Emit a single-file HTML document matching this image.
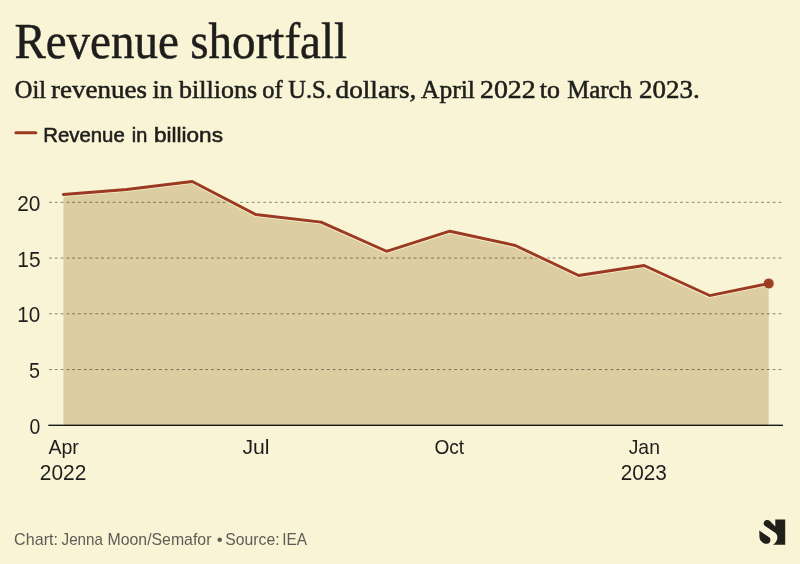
<!DOCTYPE html>
<html lang="en">
<head>
<meta charset="utf-8">
<title>Revenue shortfall</title>
<style>
html,body{margin:0;padding:0;background:#f8f4d5;}
body{width:800px;height:564px;overflow:hidden;position:relative;font-family:"Liberation Sans",sans-serif;}
svg{position:absolute;left:0;top:0;display:block}
.title{font-family:"Liberation Serif",serif;font-size:51.5px;fill:#1e1e1c;stroke:#1e1e1c;stroke-width:0.5px;}
.sub{font-family:"Liberation Serif",serif;font-size:26px;fill:#1e1e1c;stroke:#1e1e1c;stroke-width:0.55px;}
.leg{font-family:"Liberation Sans",sans-serif;font-size:20px;fill:#1e1e1c;stroke:#1e1e1c;stroke-width:0.55px;}
.ax{font-family:"Liberation Sans",sans-serif;font-size:21.6px;fill:#1e1e1c;}
.axm{font-family:"Liberation Sans",sans-serif;font-size:21px;fill:#1e1e1c;}
.foot{font-family:"Liberation Sans",sans-serif;font-size:16.4px;fill:#5d5c56;}
</style>
</head>
<body>
<svg width="800" height="564" viewBox="0 0 800 564">
<rect x="0" y="0" width="800" height="564" fill="#f8f4d5"/>
<line x1="15.9" x2="35.8" y1="132.8" y2="132.8" stroke="#9b3a20" stroke-width="3" stroke-linecap="round"/>
<path d="M63.40,194.53 L126.75,189.51 L192.21,181.48 L255.56,214.49 L321.02,222.07 L386.49,251.28 L449.84,231.21 L515.30,245.48 L578.65,275.48 L644.11,265.55 L709.57,295.55 L768.70,283.51 L768.70,425.0 L63.40,425.0 Z" fill="#ddcea2"/>
<line x1="49" x2="782" y1="369.55" y2="369.55" stroke="#2a2a22" stroke-opacity="0.54" stroke-width="1" stroke-dasharray="2.9 2.889"/>
<line x1="49" x2="782" y1="313.80" y2="313.80" stroke="#2a2a22" stroke-opacity="0.54" stroke-width="1" stroke-dasharray="2.9 2.889"/>
<line x1="49" x2="782" y1="258.05" y2="258.05" stroke="#2a2a22" stroke-opacity="0.54" stroke-width="1" stroke-dasharray="2.9 2.889"/>
<line x1="49" x2="782" y1="202.30" y2="202.30" stroke="#2a2a22" stroke-opacity="0.54" stroke-width="1" stroke-dasharray="2.9 2.889"/>

<path d="M63.40,194.53 L126.75,189.51 L192.21,181.48 L255.56,214.49 L321.02,222.07 L386.49,251.28 L449.84,231.21 L515.30,245.48 L578.65,275.48 L644.11,265.55 L709.57,295.55 L768.70,283.51" fill="none" stroke="#f8f4d5" stroke-width="4.6" stroke-linejoin="round" stroke-linecap="round"/>
<circle cx="768.70" cy="283.51" r="5.5" fill="#9c3f25" stroke="#f8f4d5" stroke-width="1"/>
<path d="M63.40,194.53 L126.75,189.51 L192.21,181.48 L255.56,214.49 L321.02,222.07 L386.49,251.28 L449.84,231.21 L515.30,245.48 L578.65,275.48 L644.11,265.55 L709.57,295.55 L768.70,283.51" fill="none" stroke="#9b3a20" stroke-width="2.9" stroke-linejoin="round" stroke-linecap="round"/>
<rect x="48.3" y="424.6" width="734.7" height="1.4" fill="#1a1a18"/>
<text y="58.0" class="title"><tspan x="14.40" textLength="164.37" lengthAdjust="spacingAndGlyphs">Revenue</tspan> <tspan x="190.26" textLength="156.89" lengthAdjust="spacingAndGlyphs">shortfall</tspan></text>
<text y="98.0" class="sub"><tspan x="14.85" textLength="31.24" lengthAdjust="spacingAndGlyphs">Oil</tspan> <tspan x="50.92" textLength="96.00" lengthAdjust="spacingAndGlyphs">revenues</tspan> <tspan x="152.50" textLength="20.17" lengthAdjust="spacingAndGlyphs">in</tspan> <tspan x="179.04" textLength="78.05" lengthAdjust="spacingAndGlyphs">billions</tspan> <tspan x="262.29" textLength="20.37" lengthAdjust="spacingAndGlyphs">of</tspan> <tspan x="288.37" textLength="43.47" lengthAdjust="spacingAndGlyphs">U.S.</tspan> <tspan x="335.62" textLength="80.79" lengthAdjust="spacingAndGlyphs">dollars,</tspan> <tspan x="420.98" textLength="53.85" lengthAdjust="spacingAndGlyphs">April</tspan> <tspan x="480.02" textLength="55.65" lengthAdjust="spacingAndGlyphs">2022</tspan> <tspan x="539.85" textLength="20.17" lengthAdjust="spacingAndGlyphs">to</tspan> <tspan x="567.17" textLength="64.81" lengthAdjust="spacingAndGlyphs">March</tspan> <tspan x="639.08" textLength="60.64" lengthAdjust="spacingAndGlyphs">2023.</tspan></text>
<text y="141.8" class="leg"><tspan x="43.27" textLength="81.44" lengthAdjust="spacingAndGlyphs">Revenue</tspan> <tspan x="131.86" textLength="15.48" lengthAdjust="spacingAndGlyphs">in</tspan> <tspan x="153.93" textLength="69.05" lengthAdjust="spacingAndGlyphs">billions</tspan></text>
<text y="545.0" class="foot"><tspan x="14.10" textLength="43.88" lengthAdjust="spacingAndGlyphs">Chart:</tspan> <tspan x="61.56" textLength="41.44" lengthAdjust="spacingAndGlyphs">Jenna</tspan> <tspan x="107.49" textLength="103.94" lengthAdjust="spacingAndGlyphs">Moon/Semafor</tspan> <tspan x="216.72" textLength="5.96" lengthAdjust="spacingAndGlyphs">•</tspan> <tspan x="225.33" textLength="54.18" lengthAdjust="spacingAndGlyphs">Source:</tspan> <tspan x="282.27" textLength="24.80" lengthAdjust="spacingAndGlyphs">IEA</tspan></text>
<text x="29.49" y="433.9" class="ax" textLength="10.80" lengthAdjust="spacingAndGlyphs">0</text>
<text x="29.04" y="378.1" class="ax" textLength="10.97" lengthAdjust="spacingAndGlyphs">5</text>
<text x="17.29" y="322.4" class="ax" textLength="22.94" lengthAdjust="spacingAndGlyphs">10</text>
<text x="17.29" y="266.6" class="ax" textLength="23.22" lengthAdjust="spacingAndGlyphs">15</text>
<text x="17.20" y="210.9" class="ax" textLength="23.22" lengthAdjust="spacingAndGlyphs">20</text>
<text x="48.42" y="454.0" class="axm" textLength="30.50" lengthAdjust="spacingAndGlyphs">Apr</text>
<text x="39.86" y="480.0" class="ax" textLength="46.51" lengthAdjust="spacingAndGlyphs">2022</text>
<text x="242.44" y="454.0" class="axm" textLength="27.11" lengthAdjust="spacingAndGlyphs">Jul</text>
<text x="434.45" y="454.0" class="axm" textLength="29.75" lengthAdjust="spacingAndGlyphs">Oct</text>
<text x="628.69" y="454.0" class="axm" textLength="31.23" lengthAdjust="spacingAndGlyphs">Jan</text>
<text x="620.65" y="480.0" class="ax" textLength="46.15" lengthAdjust="spacingAndGlyphs">2023</text>
<g transform="translate(754,514)" fill="#211f1a">
<path d="M21.3 5.4 L31.2 5.4 L31.2 30.7 L18.8 30.7 C21 29.6 22.8 27.2 23.3 24.7 C23.7 22.4 22.9 20.2 21.2 18.85 L10.7 11.7 C9.4 10.7 9.3 8.7 10.4 7.3 C11.7 5.8 14.2 5.6 15.7 6.8 L21.3 12.4 Z"/>
<path d="M5.2 16.5 L15.2 23.3 C16.6 24.4 16.9 26.4 15.8 28.2 C14.7 29.7 12.6 30.1 11 29.65 C8.2 28.8 5.8 26.6 5.5 23.6 Z"/>
</g>
</svg>
</body>
</html>
